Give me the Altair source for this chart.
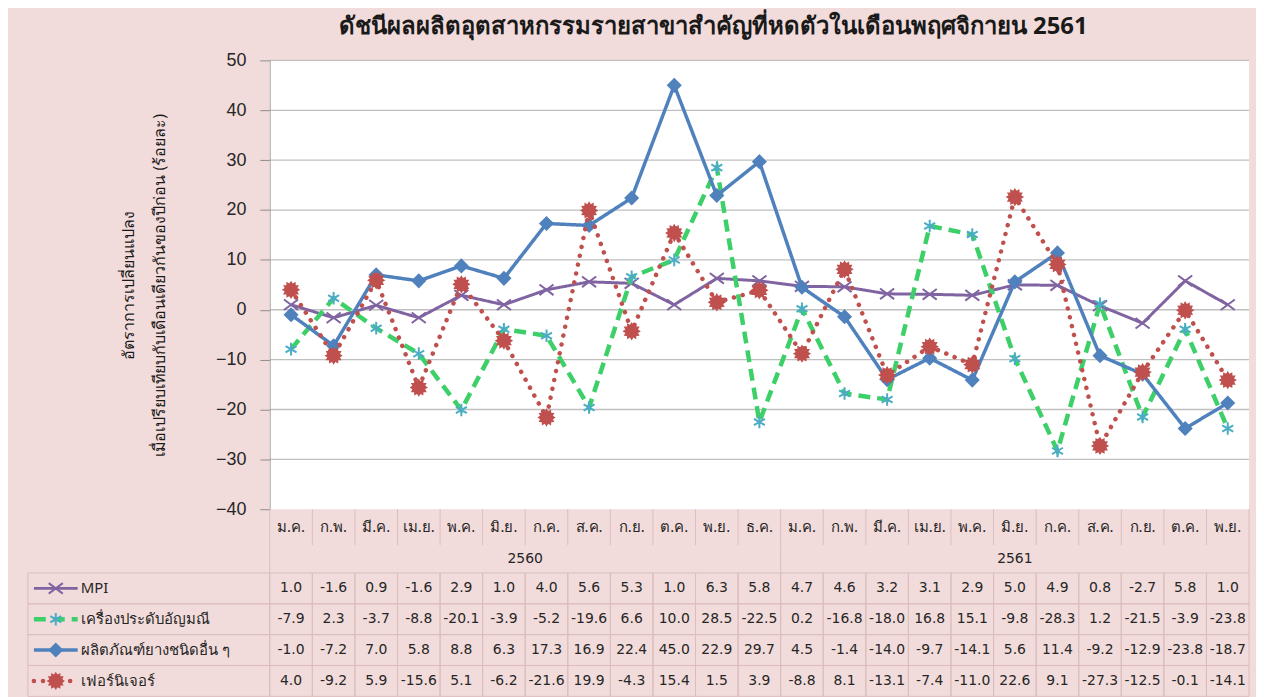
import math
import altair as alt
import pandas as pd

# ---------------- data ----------------
months = ["ม.ค.", "ก.พ.", "มี.ค.", "เม.ย.", "พ.ค.", "มิ.ย.", "ก.ค.", "ส.ค.", "ก.ย.", "ต.ค.", "พ.ย.", "ธ.ค.",
          "ม.ค.", "ก.พ.", "มี.ค.", "เม.ย.", "พ.ค.", "มิ.ย.", "ก.ค.", "ส.ค.", "ก.ย.", "ต.ค.", "พ.ย."]
years = ["2560"] * 12 + ["2561"] * 11

series_names = ["MPI", "เครื่องประดับอัญมณี", "ผลิตภัณฑ์ยางชนิดอื่น ๆ", "เฟอร์นิเจอร์"]
mpi = [1.0, -1.6, 0.9, -1.6, 2.9, 1.0, 4.0, 5.6, 5.3, 1.0, 6.3, 5.8,
       4.7, 4.6, 3.2, 3.1, 2.9, 5.0, 4.9, 0.8, -2.7, 5.8, 1.0]
jewelry = [-7.9, 2.3, -3.7, -8.8, -20.1, -3.9, -5.2, -19.6, 6.6, 10.0, 28.5, -22.5,
           0.2, -16.8, -18.0, 16.8, 15.1, -9.8, -28.3, 1.2, -21.5, -3.9, -23.8]
rubber = [-1.0, -7.2, 7.0, 5.8, 8.8, 6.3, 17.3, 16.9, 22.4, 45.0, 22.9, 29.7,
          4.5, -1.4, -14.0, -9.7, -14.1, 5.6, 11.4, -9.2, -12.9, -23.8, -18.7]
furniture = [4.0, -9.2, 5.9, -15.6, 5.1, -6.2, -21.6, 19.9, -4.3, 15.4, 1.5, 3.9,
             -8.8, 8.1, -13.1, -7.4, -11.0, 22.6, 9.1, -27.3, -12.5, -0.1, -14.1]
y_ticks = [-40, -30, -20, -10, 0, 10, 20, 30, 40, 50]

title_text = "ดัชนีผลผลิตอุตสาหกรรมรายสาขาสำคัญที่หดตัวในเดือนพฤศจิกายน 2561"
y_title = ["อัตราการเปลี่ยนแปลง", "เมื่อเปรียบเทียบกับเดือนเดียวกันของปีก่อน  (ร้อยละ)"]

# ---------------- layout / style ----------------
FONT = "Noto Sans, DejaVu Sans, sans-serif"
NUM_FONT = "DejaVu Sans"
N = len(months)
UNIT = 42.78            # px per month column
LEG_PX = 243
LEG = LEG_PX / UNIT     # legend column width in month units
W = round((N + LEG) * UNIT)
TOP_H = 451
MONTH_H = 36
YEAR_H = 28
ROW_H = 31
BG = "#f2dcdb"
CELL = "#dcbcbc"
GRID = "#bfbfbf"

xscale = alt.Scale(domain=[-LEG, N], nice=False, zero=False)
yscale = alt.Scale(domain=[min(y_ticks), max(y_ticks)], nice=False)
yaxis = alt.Axis(values=y_ticks, offset=-LEG_PX, grid=False, tickSize=10, zindex=2,
                 tickColor="#8c8c8c", domainColor="#a6a6a6", labelFontSize=18,
                 labelFont="Liberation Sans", labelColor="#262626", labelPadding=14,
                 title=y_title, titleFont=FONT, titleFontSize=16,
                 titleFontWeight="normal", titleColor="#1a1a1a",
                 titlePadding=48, titleLineHeight=31)

values = [mpi, jewelry, rubber, furniture]
rows = []
for s, vals in zip(series_names, values):
    for i, v in enumerate(vals):
        rows.append({"series": s, "idx": i, "xc": i + 0.5, "x0": i, "x1": i + 1,
                     "value": v, "label": f"{v:.1f}"})
df = pd.DataFrame(rows)


def star_path(n=12, r_out=1.0, r_in=0.72):
    pts = []
    for k in range(2 * n):
        r = r_out if k % 2 == 0 else r_in
        a = math.pi * k / n
        pts.append(f"{r * math.sin(a):.3f},{-r * math.cos(a):.3f}")
    return "M" + "L".join(pts) + "Z"


styles = {
    "MPI": dict(color="#8064A2", width=3, dash=[1, 0], cap="butt",
                shape="M-1,-0.75L1,0.75M-1,0.75L1,-0.75", msize=200,
                filled=False, mcolor="#8064A2", mstroke=2),
    "เครื่องประดับอัญมณี": dict(color="#3DCF68", width=4.5, dash=[12, 7], cap="butt",
                                 shape="M0,-1L0,1M-0.87,-0.5L0.87,0.5M-0.87,0.5L0.87,-0.5",
                                 msize=160, filled=False, mcolor="#4BACC6", mstroke=2),
    "ผลิตภัณฑ์ยางชนิดอื่น ๆ": dict(color="#4F81BD", width=3.5, dash=[1, 0], cap="butt",
                                    shape="diamond", msize=230, filled=True,
                                    mcolor="#4F81BD", mstroke=0),
    "เฟอร์นิเจอร์": dict(color="#C0504D", width=4.5, dash=[0.1, 9], cap="round",
                          shape=star_path(), msize=340, filled=True,
                          mcolor="#C0504D", mstroke=0),
}

# ---------------- top plot ----------------
bg_df = pd.DataFrame({"x0": [0], "x1": [N], "y0": [min(y_ticks)], "y1": [max(y_ticks)]})
bg = alt.Chart(bg_df).mark_rect(fill="white").encode(
    x=alt.X("x0:Q", scale=xscale, axis=None), x2="x1:Q",
    y=alt.Y("y0:Q", scale=yscale, axis=yaxis), y2="y1:Q",
)
grid_df = pd.DataFrame({"y": y_ticks[1:], "x0": 0, "x1": N})
grid = alt.Chart(grid_df).mark_rule(color=GRID, strokeWidth=1.3).encode(
    x=alt.X("x0:Q", scale=xscale, axis=None), x2="x1:Q",
    y=alt.Y("y:Q", scale=yscale, axis=yaxis))

layers = [bg, grid]
for s in series_names:
    st = styles[s]
    d = df[df.series == s]
    base = alt.Chart(d).encode(x=alt.X("xc:Q", scale=xscale, axis=None),
                               y=alt.Y("value:Q", scale=yscale, axis=yaxis))
    layers.append(base.mark_line(color=st["color"], strokeWidth=st["width"],
                                 strokeDash=st["dash"], strokeCap=st["cap"]))
    if st["filled"]:
        pt = base.mark_point(shape=st["shape"], size=st["msize"], filled=True,
                             fill=st["mcolor"], opacity=1, strokeWidth=0)
    else:
        pt = base.mark_point(shape=st["shape"], size=st["msize"], filled=False,
                             stroke=st["mcolor"], strokeWidth=st["mstroke"], opacity=1)
    layers.append(pt)

top = alt.layer(*layers).properties(width=W, height=TOP_H)

# ---------------- month header ----------------
mdf = pd.DataFrame({"month": months, "xc": [i + 0.5 for i in range(N)]})
mrules = pd.DataFrame({"x": list(range(N + 1))})
month_row = alt.layer(
    alt.Chart(mrules).mark_rule(color=CELL).encode(x=alt.X("x:Q", scale=xscale, axis=None)),
    alt.Chart(mdf).mark_text(font=FONT, fontSize=15, color="#262626").encode(
        x=alt.X("xc:Q", scale=xscale, axis=None), text="month:N"),
).properties(width=W, height=MONTH_H)

# ---------------- year header ----------------
ydf = pd.DataFrame({"year": years, "idx": list(range(N))})
ygrp = ydf.groupby("year")["idx"].agg(["min", "max"]).reset_index()
ygrp["xc"] = (ygrp["min"] + ygrp["max"] + 1) / 2
ybounds = pd.DataFrame({"x": sorted(set(list(ygrp["min"]) + [N]))})
year_row = alt.layer(
    alt.Chart(ybounds).mark_rule(color=CELL).encode(x=alt.X("x:Q", scale=xscale, axis=None)),
    alt.Chart(ygrp).mark_text(font=NUM_FONT, fontSize=14, color="#262626").encode(
        x=alt.X("xc:Q", scale=xscale, axis=None), text="year:N"),
).properties(width=W, height=YEAR_H)

# ---------------- data table ----------------
yband = alt.Y("series:N", sort=series_names, axis=None,
              scale=alt.Scale(paddingInner=0, paddingOuter=0))
legdf = pd.DataFrame({"series": series_names, "x0": -LEG, "x1": 0})
cells = alt.Chart(df).mark_rect(fillOpacity=0, stroke=CELL, strokeWidth=1).encode(
    x=alt.X("x0:Q", scale=xscale, axis=None), x2="x1:Q", y=yband)
legcells = alt.Chart(legdf).mark_rect(fillOpacity=0, stroke=CELL, strokeWidth=1).encode(
    x=alt.X("x0:Q", scale=xscale, axis=None), x2="x1:Q", y=yband)
vals = alt.Chart(df).mark_text(font=NUM_FONT, fontSize=14, color="#262626").encode(
    x=alt.X("xc:Q", scale=xscale, axis=None), y=yband, text="label:N")
legtext = alt.Chart(legdf).mark_text(font=FONT, fontSize=15, color="#262626",
                                     align="left").encode(
    x=alt.value(53), y=yband, text="series:N")

tlayers = [cells, legcells, vals, legtext]
for s in series_names:
    st = styles[s]
    one = pd.DataFrame({"series": [s]})
    b = alt.Chart(one)
    tlayers.append(b.mark_rule(color=st["color"], strokeWidth=st["width"],
                               strokeDash=st["dash"], strokeCap=st["cap"]).encode(
        x=alt.value(6), x2=alt.value(50), y=yband))
    if st["filled"]:
        tlayers.append(b.mark_point(shape=st["shape"], size=st["msize"], filled=True,
                                    fill=st["mcolor"], opacity=1, strokeWidth=0).encode(
            x=alt.value(28), y=yband))
    else:
        tlayers.append(b.mark_point(shape=st["shape"], size=st["msize"], filled=False,
                                    stroke=st["mcolor"], strokeWidth=st["mstroke"],
                                    opacity=1).encode(x=alt.value(28), y=yband))

table = alt.layer(*tlayers).properties(width=W, height=ROW_H * len(series_names))

chart = alt.vconcat(top, month_row, year_row, table, spacing=0, bounds="flush").properties(
    title=alt.TitleParams(title_text, font=FONT, fontSize=24, fontWeight="bold",
                          color="#1a1a1a", anchor="middle", dx=75, offset=13),
    padding={"left": 19, "top": 5, "right": 6, "bottom": 0},
    background=BG,
).configure_view(stroke=None)

chart.save("out.html", embed_options={"renderer": "svg", "actions": False})
